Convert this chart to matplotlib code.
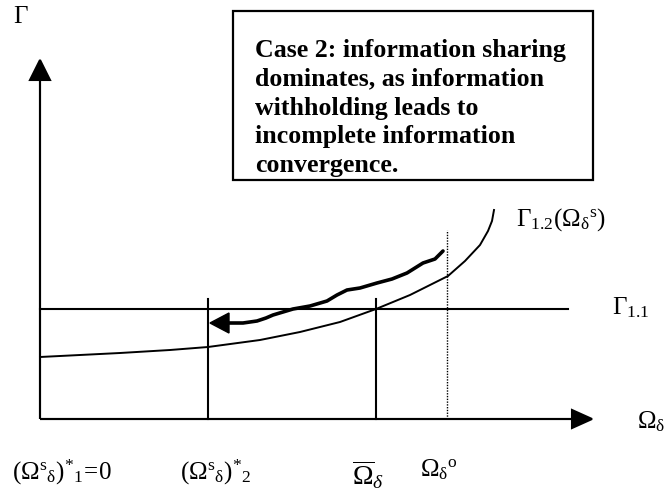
import matplotlib
matplotlib.use('Agg')
import matplotlib.pyplot as plt
from matplotlib.patches import Rectangle

plt.rcParams['mathtext.fontset'] = 'custom'
plt.rcParams['mathtext.rm'] = 'Liberation Serif'
plt.rcParams['mathtext.it'] = 'Liberation Serif:italic'
plt.rcParams['mathtext.bf'] = 'Liberation Serif:bold'
plt.rcParams['font.family'] = ['Liberation Serif', 'DejaVu Serif']

# diagram units: origin where the two axes meet (1 unit = 1 pixel)
axis_x_end = 552
axis_y_end = 359

omega_star_2 = 168
omega_bar = 336
omega_o = 407
vline_top = 120
dotted_top = 189

gamma_11 = 110
gamma_11_end = 528

# Gamma_1.2 curve
curve_x = [0, 40, 80, 130, 168, 220, 260, 300, 336, 370, 408, 425, 440, 448, 452, 454]
curve_y = [62, 64, 66, 69, 72, 79, 87, 97, 110, 124, 143, 158, 174, 188, 198, 209]

# adjustment path (hand drawn), tail end first
path_x = [189, 203, 217, 226, 233, 243, 253, 270, 287, 297, 307, 320, 337, 352, 367, 383, 395, 403]
path_y = [96, 96, 98, 101, 104, 107, 110, 113, 118, 124, 129, 131, 136, 140, 146, 156, 160, 168]
path_tip = 170

box_text = ("Case 2: information sharing\n"
            "dominates, as information\n"
            "withholding leads to\n"
            "incomplete information\n"
            "convergence.")

fig = plt.figure(figsize=(6.67, 4.97), dpi=100)
ax = fig.add_axes([0, 0, 1, 1])
ax.set_xlim(-40, 627)
ax.set_ylim(-78, 419)
ax.axis('off')

# axes with arrow heads
ax.arrow(0, 0, axis_x_end, 0, width=0, head_width=18, head_length=20,
         length_includes_head=True, lw=1.5, fc='k', ec='k')
ax.arrow(0, 0, 0, axis_y_end, width=0, head_width=20, head_length=20,
         length_includes_head=True, lw=1.5, fc='k', ec='k')

# Gamma_1.1 and the curve
ax.plot([0, gamma_11_end], [gamma_11, gamma_11], color='k', lw=1.5)
ax.plot(curve_x, curve_y, color='k', lw=1.4)

# verticals
for xv in [omega_star_2, omega_bar]:
    ax.plot([xv, xv], [0, vline_top], color='k', lw=1.5)
ax.plot([omega_o, omega_o], [0, dotted_top], color='k', lw=1.0, ls=(0, (1, 1)))

# wiggly path with arrow head
ax.plot(path_x, path_y, color='k', lw=2.6, solid_capstyle='round')
ax.arrow(path_x[0], path_y[0], path_tip - path_x[0], 0, width=0,
         head_width=20, head_length=19, length_includes_head=True,
         lw=1.0, fc='k', ec='k')

# text box
rect = Rectangle((193, 239), 360, 169, fill=False, lw=1.6, ec='k')
ax.add_patch(rect)
t = ax.text(215, 380, box_text, fontsize=18.6, fontweight='bold',
            va='top', ha='left', linespacing=1.32)
t.set_clip_path(rect)

# labels
ms = 18
ax.text(-27, 402, r'$\Gamma$', fontsize=18, va='center', ha='left')
ax.text(476, 199, r'$\Gamma_{1.2}(\Omega_{\mathrm{\delta}}{}^{\mathrm{s}})$', fontsize=ms, va='center', ha='left')
ax.text(572, 111, r'$\Gamma_{1.1}$', fontsize=ms, va='center', ha='left')
ax.text(597, -3, r'$\Omega_{\mathrm{\delta}}$', fontsize=ms, va='center', ha='left')
ax.text(-28, -53, r'$(\Omega^{\mathrm{s}}{}_{\mathrm{\delta}})^{*}{}_{1}\!=\!0$', fontsize=ms, va='center', ha='left')
ax.text(140, -53, r'$(\Omega^{\mathrm{s}}{}_{\mathrm{\delta}})^{*}{}_{2}$', fontsize=ms, va='center', ha='left')
ax.text(312, -56, r'$\overline{\Omega}_{\delta}$', fontsize=20, va='center', ha='left')
ax.text(380, -51, r'$\Omega_{\mathrm{\delta}}{}^{\mathrm{o}}$', fontsize=ms, va='center', ha='left')

fig.savefig('out.png', dpi=100)
